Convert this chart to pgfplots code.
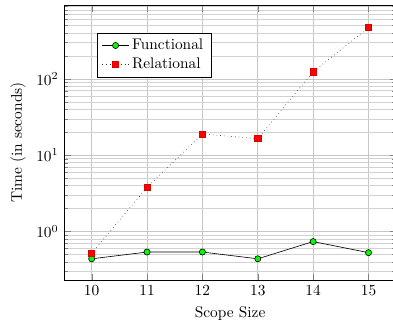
\documentclass[border=0pt]{standalone}
\usepackage{pgfplots}
\pgfplotsset{compat=1.18}
\begin{document}
\begin{tikzpicture}
\begin{axis}[
  name=ax,
  scale only axis,
  width=216pt, height=179pt,
  ymode=log,
  xmin=9.5, xmax=15.5,
  ymin=0.23, ymax=930,
  xtick={10,11,12,13,14,15},
  grid=both,
  major grid style={gray!45},
  minor grid style={gray!35},
  xminorgrids=false,
  xlabel={Scope Size},
  ylabel={Time (in seconds)},
  legend style={at={(0.1,0.9)},anchor=north west,cells={anchor=west}},
]
\addplot[black, mark=*, mark options={fill=green, draw=black, solid}] coordinates {
(10,0.44) (11,0.54) (12,0.54) (13,0.44) (14,0.74) (15,0.53)
};
\addlegendentry{Functional}
\addplot[black!80, dotted, mark=square*, mark options={fill=red, draw=red!85!black, solid}] coordinates {
(10,0.52) (11,3.8) (12,19) (13,16.5) (14,124) (15,470)
};
\addlegendentry{Relational}
\end{axis}
\pgfresetboundingbox
\path[use as bounding box] ([xshift=-41.6pt,yshift=3.25pt]ax.north west) rectangle ([xshift=213.9pt,yshift=-28pt]ax.south west);
\end{tikzpicture}
\end{document}
